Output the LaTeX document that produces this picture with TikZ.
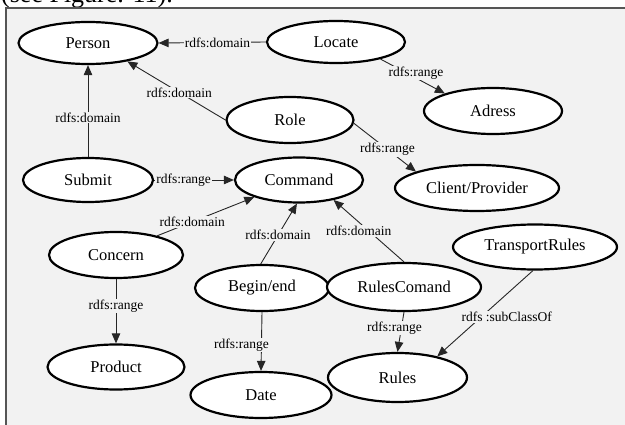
\documentclass[tikz,border=0pt]{standalone}
\usepackage{fontspec}
\setmainfont{Liberation Serif}
\usetikzlibrary{shapes.geometric,arrows.meta}
\definecolor{panel}{HTML}{F2F2F2}
\definecolor{frameline}{HTML}{555555}

\begin{document}
\begin{tikzpicture}[x=1pt,y=-1pt,
  cls/.style={ellipse,draw=black,line width=2.2pt,fill=white,inner sep=0pt,
              font=\fontsize{16.5}{19}\selectfont},
  rel/.style={draw=black!85,line width=0.9pt,
              -{Triangle[length=10pt,width=8.5pt]}},
  lbl/.style={fill=panel,inner sep=1pt,font=\fontsize{13.5}{15}\selectfont}]

\useasboundingbox (0,0) rectangle (625,425);
\clip (0,0) rectangle (625,425);

% caption line above the panel, cut by the page top
\node[anchor=base west,inner sep=0pt,font=\fontsize{26}{30}\selectfont]
  (caption) at (1,3) {(see Figure. 11).};

% panel
\draw[frameline,line width=2pt,fill=panel] (5.5,8.5) rectangle (640,440);

% classes and properties
\node[cls,minimum width=139pt,minimum height=42pt] (person)    at (88,43)   {Person};
\node[cls,minimum width=138pt,minimum height=42pt] (locate)    at (336,42)  {Locate};
\node[cls,minimum width=138pt,minimum height=46pt] (adress)    at (493,111) {Adress};
\node[cls,minimum width=127pt,minimum height=46pt] (role)      at (290,120) {Role};
\node[cls,minimum width=130pt,minimum height=44pt] (submit)    at (88,180)  {Submit};
\node[cls,minimum width=128pt,minimum height=45pt] (command)   at (299,180) {Command};
\node[cls,minimum width=164pt,minimum height=46pt] (client)    at (477,188) {Client/Provider};
\node[cls,minimum width=164pt,minimum height=45pt] (transport) at (535,247) {TransportRules};
\node[cls,minimum width=134pt,minimum height=46pt] (concern)   at (116,255) {Concern};
\node[cls,minimum width=134pt,minimum height=46pt] (begin)     at (262,288) {Begin/end};
\node[cls,minimum width=154pt,minimum height=48pt] (rulescmd)  at (404,287) {RulesComand};
\node[cls,minimum width=137pt,minimum height=45pt] (product)   at (116,367) {Product};
\node[cls,minimum width=141pt,minimum height=46pt] (date)      at (261,395) {Date};
\node[cls,minimum width=139pt,minimum height=49pt] (rules)     at (397.5,377.5) {Rules};

% properties
\draw[rel] (locate.west) -- node[lbl,pos=.45] {rdfs:domain} (person.east);
\draw[rel] (role.west) -- node[lbl,pos=.47] {rdfs:domain} (person.-25);
\draw[rel] (submit.north) -- node[lbl,pos=.43] {rdfs:domain} (person.south);
\draw[rel] (locate.-21) -- node[lbl,pos=.55,yshift=5pt] {rdfs:range} (adress.160);
\draw[rel] (role.-3) -- node[lbl,pos=.54] {rdfs:range} (client.165);
\draw[rel] (submit.east) -- node[lbl,pos=.37] {rdfs:range} (command.west);
\draw[rel] (concern.25) -- node[lbl,pos=.36] {rdfs:domain} (command.-159);
\draw[rel] (begin.93) -- node[lbl,pos=.48] {rdfs:domain} (command.-95);
\draw[rel] (rulescmd.north) -- node[lbl,pos=.5,xshift=-10pt] {rdfs:domain} (command.-30);
\draw[rel] (concern.south) -- node[lbl,pos=.42] {rdfs:range} (product.north);
\draw[rel] (begin.south) -- node[lbl,pos=.56,xshift=-20pt] {rdfs:range} (date.north);
\draw[rel] (rulescmd.south) -- node[lbl,pos=.4,xshift=-7pt] {rdfs:range} (rules.north);
\draw[rel] (transport.-95) -- node[lbl,pos=.545,xshift=26pt] {rdfs :subClassOf} (rules.28);

\end{tikzpicture}
\end{document}
